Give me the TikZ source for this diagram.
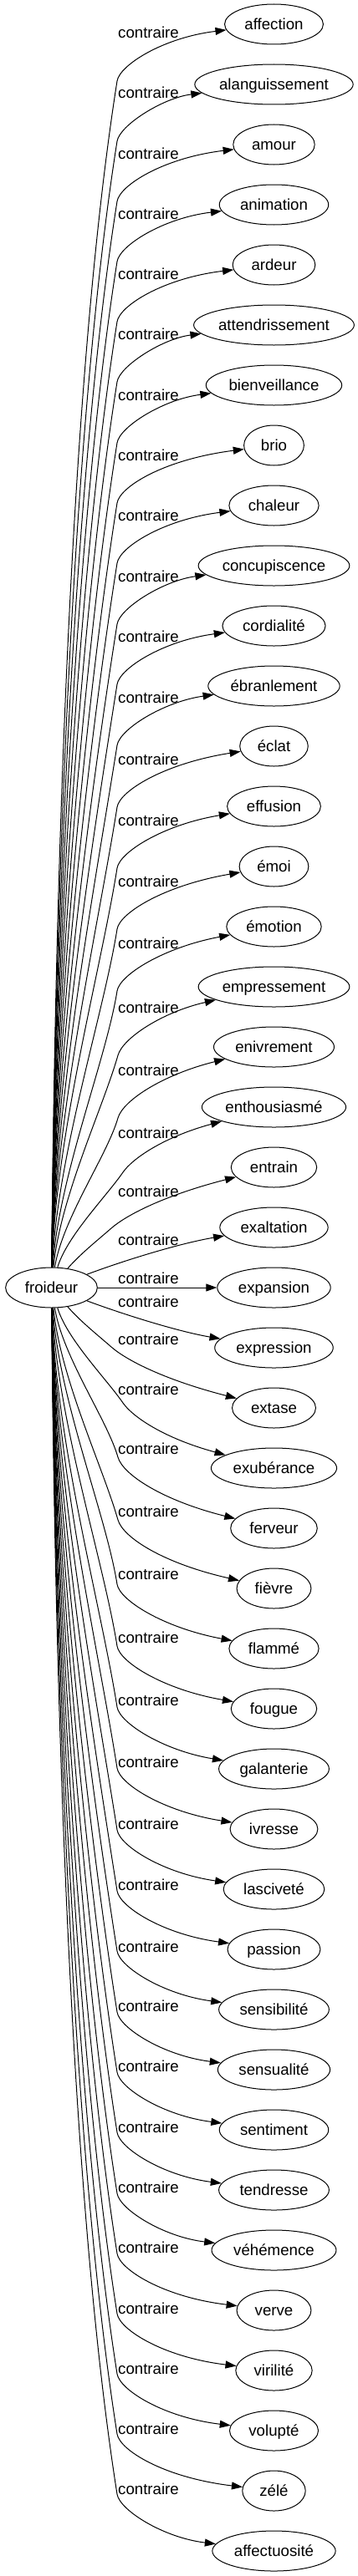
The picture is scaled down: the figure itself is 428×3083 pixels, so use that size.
\documentclass[tikz,border=0pt]{standalone}
\usepackage{fontspec}
\setmainfont{Liberation Sans}
\usetikzlibrary{arrows.meta,shapes.geometric}
\newlength\twid
\newcommand\nfont{\fontsize{18.67pt}{22pt}\selectfont}
\tikzset{
  every node/.style={font=\nfont},
  tgt/.style={draw, ellipse, inner sep=0pt, minimum height=48pt, line width=1pt, text height=13pt, text depth=0pt},
  lbl/.style={inner sep=0pt, text height=12pt, text depth=0pt},
  edge/.style={line width=1pt, -{Triangle[length=13pt,width=9pt]}},
}
% target node: #1 name, #2 x, #3 y, #4 text
\newcommand\tgtnode[4]{%
  \pgfinterruptpicture\setbox0=\hbox{\nfont #4}\global\twid=\wd0\endpgfinterruptpicture
  \pgfmathsetmacro\nodewd{1.18*\twid+35}%
  \node[tgt, minimum width=\nodewd pt] (#1) at (#2,#3) {\makebox[0pt]{#4}};
}
% edge: #1 name, #2 y, #3 s, #4 mx, #5 b, #6 c3dx, #7 c3dy, #8 c4d, #9 c1x
\newcommand\cedge[9]{%
  \pgfmathsetmacro\my{#2+(#3)*#5}%
  \pgfmathsetmacro\D{(#3)*(1541-#2)-24-#5}%
  \pgfmathsetmacro\cay{1541-(#3)*24-(#3)*0.33*\D}%
  \pgfmathsetmacro\cbx{#4-0.25*\D*#6/#7}%
  \pgfmathsetmacro\cby{\my+(#3)*0.25*\D}%
  \pgfmathsetmacro\ccx{#4+#6}%
  \pgfmathsetmacro\ccy{\my-(#3)*#7}%
  \pgfmathsetmacro\cdy{#2+(#3)*#8}%
  \draw[edge] (froideur) .. controls (#9,\cay) and (\cbx,\cby) .. (#4,\my) .. controls (\ccx,\ccy) and (195,\cdy) .. (#1);
}
\newcommand\clabel[2]{\node[lbl] (#1) at (177.5,#2) {contraire};}
\begin{document}
\begin{tikzpicture}[x=1pt,y=-1pt]
\useasboundingbox (0,0) rectangle (428,3083);
\fill[white] (0,0) rectangle (428,3083);
\tgtnode{froideur}{61.5}{1541}{froideur}
\tgtnode{n1}{327.5}{29}{affection}
\tgtnode{n2}{327.5}{101}{alanguissement}
\tgtnode{n3}{327.5}{173}{amour}
\tgtnode{n4}{327.5}{245}{animation}
\tgtnode{n5}{327.5}{317}{ardeur}
\tgtnode{n6}{327.5}{389}{attendrissement}
\tgtnode{n7}{327.5}{461}{bienveillance}
\tgtnode{n8}{327.5}{533}{brio}
\tgtnode{n9}{327.5}{605}{chaleur}
\tgtnode{n10}{327.5}{677}{concupiscence}
\tgtnode{n11}{327.5}{749}{cordialité}
\tgtnode{n12}{327.5}{821}{ébranlement}
\tgtnode{n13}{327.5}{893}{éclat}
\tgtnode{n14}{327.5}{965}{effusion}
\tgtnode{n15}{327.5}{1037}{émoi}
\tgtnode{n16}{327.5}{1109}{émotion}
\tgtnode{n17}{327.5}{1181}{empressement}
\tgtnode{n18}{327.5}{1253}{enivrement}
\tgtnode{n19}{327.5}{1325}{enthousiasmé}
\tgtnode{n20}{327.5}{1397}{entrain}
\tgtnode{n21}{327.5}{1469}{exaltation}
\tgtnode{n22}{327.5}{1541}{expansion}
\tgtnode{n23}{327.5}{1613}{expression}
\tgtnode{n24}{327.5}{1685}{extase}
\tgtnode{n25}{327.5}{1757}{exubérance}
\tgtnode{n26}{327.5}{1829}{ferveur}
\tgtnode{n27}{327.5}{1901}{fièvre}
\tgtnode{n28}{327.5}{1973}{flammé}
\tgtnode{n29}{327.5}{2045}{fougue}
\tgtnode{n30}{327.5}{2117}{galanterie}
\tgtnode{n31}{327.5}{2189}{ivresse}
\tgtnode{n32}{327.5}{2261}{lasciveté}
\tgtnode{n33}{327.5}{2333}{passion}
\tgtnode{n34}{327.5}{2405}{sensibilité}
\tgtnode{n35}{327.5}{2477}{sensualité}
\tgtnode{n36}{327.5}{2549}{sentiment}
\tgtnode{n37}{327.5}{2621}{tendresse}
\tgtnode{n38}{327.5}{2693}{véhémence}
\tgtnode{n39}{327.5}{2765}{verve}
\tgtnode{n40}{327.5}{2837}{virilité}
\tgtnode{n41}{327.5}{2909}{volupté}
\tgtnode{n42}{327.5}{2981}{zélé}
\tgtnode{n43}{327.5}{3053}{affectuosité}
% upper edges
\cedge{n1}{29}{1}{140}{68}{3}{19}{16}{66}
\cedge{n2}{101}{1}{140}{68}{3}{19}{16}{66}
\cedge{n3}{173}{1}{140}{68}{3}{19}{16}{66}
\cedge{n4}{245}{1}{140}{68}{3}{19}{16}{66}
\cedge{n5}{317}{1}{140}{68}{3}{19}{16}{66}
\cedge{n6}{389}{1}{140}{68}{3}{19}{16}{66}
\cedge{n7}{461}{1}{140}{69}{3}{19}{17}{66}
\cedge{n8}{533}{1}{140}{69}{3}{19}{17}{66}
\cedge{n9}{605}{1}{140}{69}{3}{19}{17}{66}
\cedge{n10}{677}{1}{140}{70}{3}{19}{18}{66}
\cedge{n11}{749}{1}{140}{70}{3}{19}{18}{66}
\cedge{n12}{821}{1}{140}{71}{3}{19}{19}{66}
\cedge{n13}{893}{1}{140}{73}{3}{19}{21}{66}
\cedge{n14}{965}{1}{140}{74}{3}{19}{22}{66}
\cedge{n15}{1037}{1}{140}{75}{3}{19}{23}{68}
\cedge{n16}{1109}{1}{140}{77}{3}{19}{25}{70}
\cedge{n17}{1181}{1}{141}{82}{6}{21}{30}{72}
\cedge{n18}{1253}{1}{141}{85}{6}{21}{33}{75}
\cedge{n19}{1325}{1}{147}{78}{11}{16}{36}{80}
\cedge{n20}{1397}{1}{133}{73}{17}{15}{34}{95}
\draw[edge] (froideur) .. controls (150,1508) and (215,1488) .. (n21);
\draw[edge] (froideur) -- (n22);
\draw[edge] (froideur) .. controls (150,1574) and (215,1594) .. (n23);
% lower edges
\cedge{n24}{1685}{-1}{133}{73}{17}{15}{34}{95}
\cedge{n25}{1757}{-1}{147}{78}{11}{16}{36}{80}
\cedge{n26}{1829}{-1}{141}{85}{6}{21}{33}{75}
\cedge{n27}{1901}{-1}{141}{82}{6}{21}{30}{72}
\cedge{n28}{1973}{-1}{140}{77}{3}{19}{25}{70}
\cedge{n29}{2045}{-1}{140}{75}{3}{19}{23}{68}
\cedge{n30}{2117}{-1}{140}{74}{3}{19}{22}{66}
\cedge{n31}{2189}{-1}{140}{73}{3}{19}{21}{66}
\cedge{n32}{2261}{-1}{140}{71}{3}{19}{19}{66}
\cedge{n33}{2333}{-1}{140}{70}{3}{19}{18}{66}
\cedge{n34}{2405}{-1}{140}{70}{3}{19}{18}{66}
\cedge{n35}{2477}{-1}{140}{69}{3}{19}{17}{66}
\cedge{n36}{2549}{-1}{140}{69}{3}{19}{17}{66}
\cedge{n37}{2621}{-1}{140}{69}{3}{19}{17}{66}
\cedge{n38}{2693}{-1}{140}{68}{3}{19}{16}{66}
\cedge{n39}{2765}{-1}{140}{68}{3}{19}{16}{66}
\cedge{n40}{2837}{-1}{140}{68}{3}{19}{16}{66}
\cedge{n41}{2909}{-1}{140}{68}{3}{19}{16}{66}
\cedge{n42}{2981}{-1}{140}{68}{3}{19}{16}{66}
\cedge{n43}{3053}{-1}{140}{68}{3}{19}{16}{66}
% labels
\clabel{l1}{40}
\clabel{l2}{112}
\clabel{l3}{184}
\clabel{l4}{256}
\clabel{l5}{328}
\clabel{l6}{400}
\clabel{l7}{473}
\clabel{l8}{545}
\clabel{l9}{617}
\clabel{l10}{690}
\clabel{l11}{762}
\clabel{l12}{835}
\clabel{l13}{909}
\clabel{l14}{982}
\clabel{l15}{1055}
\clabel{l16}{1129}
\clabel{l17}{1206}
\clabel{l18}{1281}
\clabel{l19}{1356}
\clabel{l20}{1426}
\clabel{l21}{1484}
\clabel{l22}{1530}
\clabel{l23}{1558}
\clabel{l24}{1603}
\clabel{l25}{1663}
\clabel{l26}{1734}
\clabel{l27}{1809}
\clabel{l28}{1884}
\clabel{l29}{1960}
\clabel{l30}{2035}
\clabel{l31}{2109}
\clabel{l32}{2183}
\clabel{l33}{2256}
\clabel{l34}{2330}
\clabel{l35}{2401}
\clabel{l36}{2473}
\clabel{l37}{2546}
\clabel{l38}{2618}
\clabel{l39}{2690}
\clabel{l40}{2763}
\clabel{l41}{2835}
\clabel{l42}{2907}
\clabel{l43}{2979}
\end{tikzpicture}
\end{document}
